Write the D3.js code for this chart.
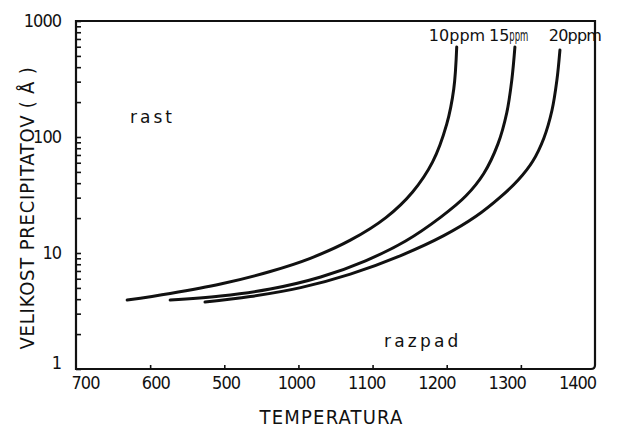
<!DOCTYPE html>
<html><head><meta charset="utf-8">
<script src="https://cdn.jsdelivr.net/npm/d3@7"></script>
<style>
body{margin:0;background:#fff;}
svg{display:block;}
text{fill:#111;}
</style></head>
<body><svg id="c" width="617" height="435"></svg>
<script>
// ---- data ----
const xTickValues = [700, 800, 900, 1000, 1100, 1200, 1300, 1400];
const xTickLabels = ["700", "600", "500", "1000", "1100", "1200", "1300", "1400"];
const yTickValues = [1, 10, 100, 1000];
const yTickLabels = ["1", "10", "100", "1000"];
const seriesNames = ["10ppm", "15ppm", "20ppm"];
const temp10 = [769, 827, 895, 962, 1016, 1070, 1118, 1154, 1181, 1200, 1209.5, 1213.5];
const size10 = [3.93, 4.48, 5.40, 6.93, 9.0, 12.9, 20.2, 33.6, 61.0, 129, 259, 597];
const temp15 = [827, 895, 962, 1030, 1090.5, 1144.6, 1192, 1225.7, 1250, 1269, 1281, 1287.8, 1292];
const size15 = [3.93, 4.26, 4.89, 6.21, 8.57, 12.7, 20.4, 31.0, 48.5, 86.8, 162, 310, 597];
const temp20 = [874, 935, 1003, 1070, 1138, 1196, 1239, 1273, 1297, 1316, 1331, 1342, 1348.6, 1352.7];
const size20 = [3.78, 4.21, 5.03, 6.58, 9.5, 14.1, 20.6, 30.6, 43.0, 61.8, 97.7, 170, 309, 562];

const svg = d3.select("#c");
const L = 76, R = 595, T = 21, B = 369;
const x = d3.scaleLinear().domain([700, 1400]).range([L, R]);
const xLab = d3.scaleLinear().domain([700, 1400]).range([85, 577]);
const y = d3.scaleLog().domain([1, 1000]).range([B, T]);

// minor/major y ticks (inward)
const yTicksAll = [];
for (let e = 0; e < 3; e++) for (let k = 1; k <= 9; k++) yTicksAll.push(k * Math.pow(10, e));
yTicksAll.push(1000);

const gyt = svg.append("g").attr("transform", `translate(${L},0)`)
  .call(d3.axisRight(y).tickValues(yTicksAll).tickSize(5).tickFormat(""));
gyt.select(".domain").remove();
gyt.selectAll("line").attr("stroke", "#111").attr("stroke-width", 1.6);

const gyl = svg.append("g").attr("transform", `translate(${L - 12},0)`)
  .call(d3.axisLeft(y).tickValues(yTickValues).tickSize(0)
    .tickFormat((d, i) => yTickLabels[i]));
gyl.select(".domain").remove();
gyl.selectAll("text").attr("font-family", "DejaVu Sans Condensed").attr("font-size", 18)
  .attr("dy", (d) => d === 1 ? "-0.05em" : "0.32em").attr("letter-spacing", -1);

// x ticks (inward, no labels)
const gxt = svg.append("g").attr("transform", `translate(0,${B})`)
  .call(d3.axisTop(x).tickValues(xTickValues.slice(1, -1)).tickSize(4).tickFormat(""));
gxt.select(".domain").remove();
gxt.selectAll("line").attr("stroke", "#111").attr("stroke-width", 1.6);

const gxl = svg.append("g").attr("transform", `translate(0,${B + 4})`)
  .call(d3.axisBottom(xLab).tickValues(xTickValues).tickSize(0)
    .tickFormat((d, i) => xTickLabels[i]));
gxl.select(".domain").remove();
gxl.selectAll("text").attr("font-family", "DejaVu Sans Condensed").attr("font-size", 18)
  .attr("letter-spacing", -1);

// frame
svg.append("path")
  .attr("d", `M${L},${T}H${R}V${B - 4}Q${R},${B} ${R - 4},${B}H${L}Z`)
  .attr("fill", "none").attr("stroke", "#111").attr("stroke-width", 2.2);

// curves
const line = d3.line().x(d => x(d[0])).y(d => y(d[1])).curve(d3.curveCatmullRom.alpha(0.5));
const series = [[temp10, size10], [temp15, size15], [temp20, size20]];
series.forEach(([t, s]) => {
  svg.append("path").datum(t.map((v, i) => [v, s[i]]))
    .attr("d", line).attr("fill", "none").attr("stroke", "#111")
    .attr("stroke-width", 3).attr("stroke-linecap", "round");
});

// series labels
svg.append("text").attr("x", 457).attr("y", 41).attr("text-anchor", "middle")
  .attr("font-family", "DejaVu Sans").attr("font-size", 16).text(seriesNames[0]);
const t15 = svg.append("text").attr("x", 489).attr("y", 41)
  .attr("font-family", "DejaVu Sans").attr("font-size", 16);
t15.append("tspan").text(seriesNames[1].slice(0, 2));
t15.append("tspan").attr("textLength", 19).attr("lengthAdjust", "spacingAndGlyphs")
  .text(seriesNames[1].slice(2));
svg.append("text").attr("x", 575).attr("y", 41).attr("text-anchor", "middle")
  .attr("font-family", "DejaVu Sans").attr("font-size", 16).attr("letter-spacing", -0.8)
  .text(seriesNames[2]);

// region labels
svg.append("text").attr("x", 130).attr("y", 123)
  .attr("font-family", "DejaVu Sans").attr("font-size", 17).attr("letter-spacing", 3).text("rast");
svg.append("text").attr("x", 384).attr("y", 347)
  .attr("font-family", "DejaVu Sans").attr("font-size", 17).attr("letter-spacing", 3.2).text("razpad");

// axis titles
svg.append("text").attr("x", (258 + 405) / 2).attr("y", 424).attr("text-anchor", "middle")
  .attr("font-family", "DejaVu Sans Condensed").attr("font-size", 20).attr("letter-spacing", 1.2)
  .text("TEMPERATURA");
svg.append("text").attr("transform", "translate(34,208) rotate(-90)").attr("text-anchor", "middle")
  .attr("font-family", "DejaVu Sans Condensed").attr("font-size", 20).attr("letter-spacing", 0.8)
  .text("VELIKOST PRECIPITATOV ( Å )");
</script></body></html>
